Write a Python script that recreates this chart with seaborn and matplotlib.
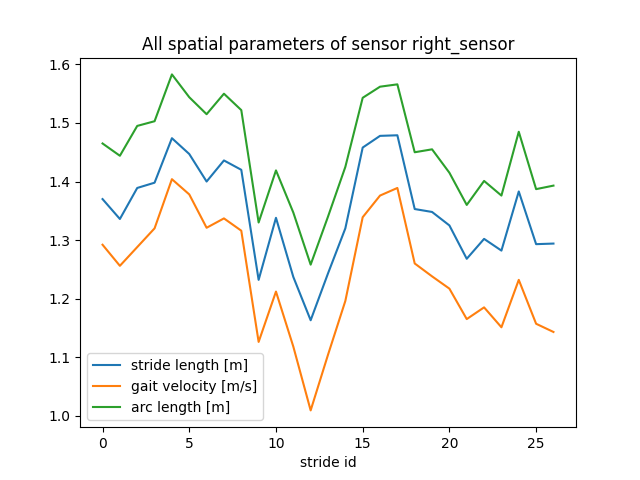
import matplotlib
matplotlib.use("Agg")
import matplotlib.pyplot as plt
import numpy as np
import seaborn as sns

stride_id = np.arange(27)
stride_length = [1.370, 1.336, 1.389, 1.398, 1.474, 1.447, 1.400, 1.436, 1.420, 1.232,
                 1.338, 1.237, 1.163, 1.243, 1.320, 1.458, 1.478, 1.479, 1.353, 1.348,
                 1.325, 1.268, 1.302, 1.282, 1.383, 1.293, 1.294]
gait_velocity = [1.292, 1.256, 1.288, 1.320, 1.404, 1.378, 1.321, 1.337, 1.316, 1.126,
                 1.212, 1.118, 1.009, 1.104, 1.196, 1.339, 1.376, 1.389, 1.260, 1.238,
                 1.217, 1.165, 1.185, 1.151, 1.232, 1.157, 1.143]
arc_length = [1.465, 1.444, 1.495, 1.503, 1.583, 1.544, 1.515, 1.550, 1.522, 1.330,
              1.419, 1.347, 1.258, 1.340, 1.425, 1.543, 1.562, 1.566, 1.450, 1.455,
              1.415, 1.360, 1.401, 1.376, 1.485, 1.387, 1.393]

fig, ax = plt.subplots(figsize=(6.4, 4.8), dpi=100)
sns.lineplot(x=stride_id, y=stride_length, ax=ax, label="stride length [m]", color="#1f77b4")
sns.lineplot(x=stride_id, y=gait_velocity, ax=ax, label="gait velocity [m/s]", color="#ff7f0e")
sns.lineplot(x=stride_id, y=arc_length, ax=ax, label="arc length [m]", color="#2ca02c")

ax.set_xlabel("stride id")
ax.set_title("All spatial parameters of sensor right_sensor")
ax.legend(loc="lower left")

plt.savefig("out.png")
